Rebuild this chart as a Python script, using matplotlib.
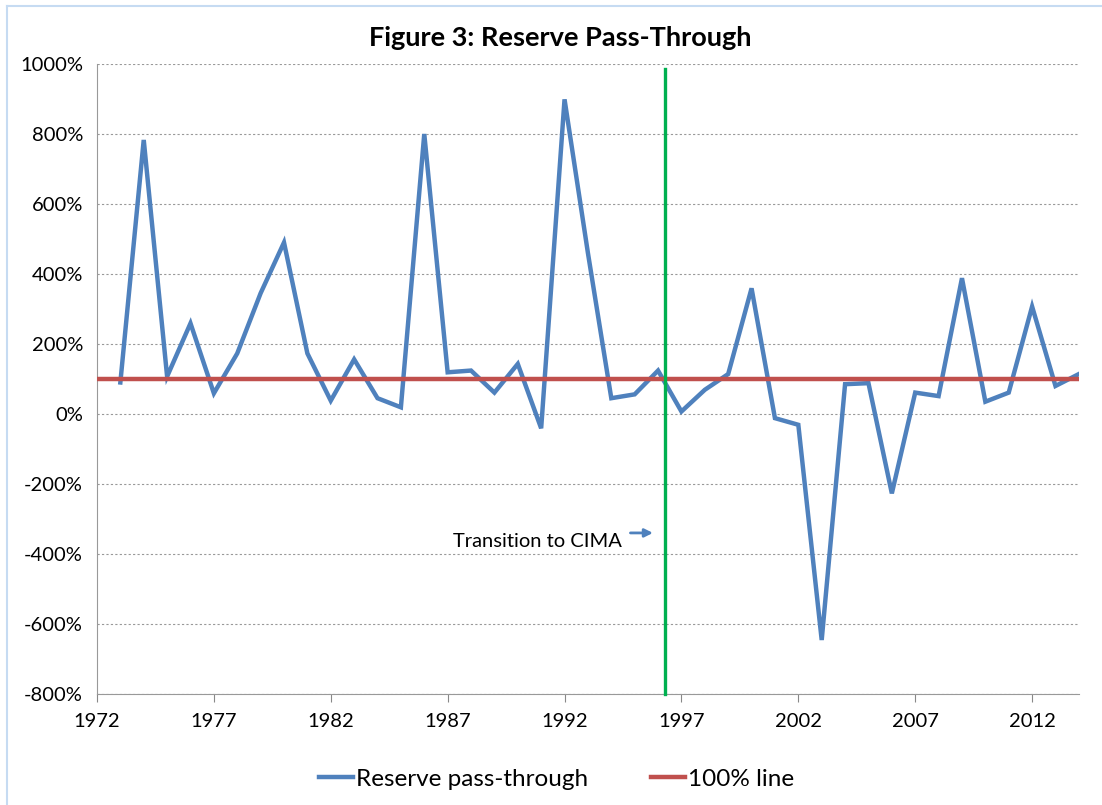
import matplotlib.pyplot as plt
from matplotlib.lines import Line2D
from matplotlib.ticker import FuncFormatter

# data (pass-through in %)
years = list(range(1973, 2015))
pass_through = [90, 783, 107, 259, 59, 173, 345, 490, 173, 38,
                156, 45, 19, 800, 119, 124, 61, 143, -41, 899,
                460, 45, 56, 124, 7, 69, 114, 359, -12, -31,
                -646, 85, 88, -227, 61, 51, 388, 35, 61, 307,
                80, 114]
line_level = 100
transition_year = 1996.3
x_ticks = list(range(1972, 2015, 5))
y_ticks = list(range(-800, 1001, 200))

plt.rcParams['font.family'] = ['Lato', 'DejaVu Sans']

fig = plt.figure(figsize=(11.02, 8.05), dpi=100)
ax = fig.add_axes([0.088, 0.138, 0.891, 0.7825])

ax.plot(years, pass_through, color='#4F81BD', lw=3.2, solid_joinstyle='miter',
        label='Reserve pass-through', zorder=3)
ax.axhline(line_level, color='#C0504D', lw=3.2, zorder=4, label='100% line')
ax.plot([transition_year, transition_year], [-800, 985], color='#00B050', lw=2.4,
        zorder=5, clip_on=False)

ax.set_xlim(1972, 2014)
ax.set_ylim(-800, 1000)
ax.set_xticks(x_ticks)
ax.set_yticks(y_ticks)
ax.yaxis.set_major_formatter(FuncFormatter(lambda v, p: f"{int(v)}%"))
ax.tick_params(axis='x', length=6, color='#888888', labelsize=14.5, pad=8, direction='out')
ax.tick_params(axis='y', length=0, labelsize=14.5, pad=10)
ax.grid(axis='y', color='#999999', lw=0.8, ls=(0, (2, 2)))
ax.set_axisbelow(True)
for s in ['top', 'right']:
    ax.spines[s].set_visible(False)
ax.spines['left'].set_color('#999999')
ax.spines['bottom'].set_color('#999999')

fig.suptitle('Figure 3: Reserve Pass-Through', x=0.508, y=0.953, va='center',
             fontsize=19.5, fontweight='bold')

ax.annotate('', xy=(1995.9, -340), xytext=(1994.7, -340),
            arrowprops=dict(arrowstyle='-|>', color='#4F81BD', lw=2, mutation_scale=12))
ax.text(1994.45, -365, 'Transition to CIMA', fontsize=14.5, ha='right', va='center')

handles = [Line2D([], [], color='#4F81BD', lw=3.2), Line2D([], [], color='#C0504D', lw=3.2)]
fig.legend(handles, ['Reserve pass-through', '100% line'], loc='center', ncol=2,
           bbox_to_anchor=(0.505, 0.032), frameon=False, fontsize=17.5,
           handlelength=1.4, handletextpad=0.1, columnspacing=2.6)

# light border of the chart area
fig.add_artist(Line2D([0.006, 1.0], [0.993, 0.993], color='#C6DBF2', lw=1.5))
fig.add_artist(Line2D([0.006, 0.006], [0.0, 0.993], color='#C6DBF2', lw=1.5))

fig.savefig('out.png', dpi=100)
